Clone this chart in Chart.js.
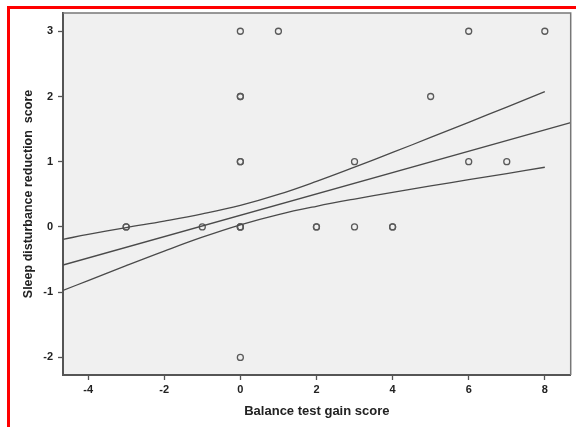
<!DOCTYPE html>
<html>
<head>
<meta charset="utf-8">
<script src="https://cdn.jsdelivr.net/npm/chart.js@4.4.0/dist/chart.umd.min.js"></script>
<style>
  body { margin: 0; background: #fff; }
  #wrap { position: relative; width: 576px; height: 427px; overflow: hidden; }
  #frame {
    position: absolute; left: 7px; top: 6px; width: 600px; height: 450px;
    border-top: 3px solid #ff0000; border-left: 3px solid #ff0000;
  }
  canvas { position: absolute; left: 0; top: 0; }
</style>
</head>
<body>
<div id="wrap">
  <canvas id="scatterChart" width="576" height="427"></canvas>
  <div id="frame"></div>
</div>
<script>
// ===== DATA =====
// one entry per observation (repeated values overlap and look darker)
const pointX = [0, 1, 6, 8, 0, 0, 5, 0, 0, 3, 6, 7, -3, -3, -1, 0, 0, 0, 2, 2, 3, 4, 4, 0];
const pointY = [3, 3, 3, 3, 2, 2, 2, 1, 1, 1, 1, 1, 0, 0, 0, 0, 0, 0, 0, 0, 0, 0, 0, -2];

// fitted line, ends at the plot edges
const fitX = [-4.66, 8.68];
const fitY = [-0.584, 1.60];

// 95% confidence band of the mean
const ciX = [-4.66, -4, -3, -2, -1, 0, 1, 2, 3, 4, 5, 6, 7, 8];
const ciUpper = [-0.19, -0.115, -0.01, 0.09, 0.20, 0.33, 0.498, 0.699, 0.917, 1.142, 1.372, 1.604, 1.838, 2.075];
const ciLower = [-0.974, -0.822, -0.593, -0.370, -0.157, 0.033, 0.190, 0.317, 0.428, 0.530, 0.628, 0.724, 0.818, 0.915];

const xRange = [-4.66, 8.68];
const yRange = [-2.27, 3.28];

const lineColor = '#4a4a4a';
const textColor = '#222';

Chart.defaults.font.family = "'Liberation Sans', Arial, sans-serif";

function toPoints(xs, ys) {
    return xs.map(function(x, i) { return { x: x, y: ys[i] }; });
}

// gray plot background plus the thin top/right frame
const plotFrame = {
    id: 'plotFrame',
    beforeDraw: function(chart) {
        const a = chart.chartArea;
        const c = chart.ctx;
        c.save();
        c.fillStyle = '#f0f0f0';
        c.fillRect(a.left, a.top, a.right - a.left, a.bottom - a.top);
        c.restore();
    },
    afterDraw: function(chart) {
        const a = chart.chartArea;
        const c = chart.ctx;
        c.save();
        c.strokeStyle = '#777';
        c.lineWidth = 1.5;
        c.beginPath();
        c.moveTo(a.left, a.top);
        c.lineTo(a.right, a.top);
        c.lineTo(a.right, a.bottom);
        c.stroke();
        c.restore();
    }
};

const ctx = document.getElementById('scatterChart');

new Chart(ctx, {
    type: 'scatter',
    data: {
        datasets: [
            {
                type: 'line',
                data: toPoints(ciX, ciUpper),
                borderColor: lineColor,
                borderWidth: 1.3,
                pointRadius: 0,
                tension: 0.4,
                fill: false
            },
            {
                type: 'line',
                data: toPoints(fitX, fitY),
                borderColor: lineColor,
                borderWidth: 1.3,
                pointRadius: 0,
                fill: false
            },
            {
                type: 'line',
                data: toPoints(ciX, ciLower),
                borderColor: lineColor,
                borderWidth: 1.3,
                pointRadius: 0,
                tension: 0.4,
                fill: false
            },
            {
                data: toPoints(pointX, pointY),
                pointRadius: 3,
                pointBorderWidth: 1.3,
                borderColor: '#5a5a5a',
                backgroundColor: 'rgba(0,0,0,0)'
            }
        ]
    },
    options: {
        responsive: false,
        animation: false,
        layout: { padding: { top: 13, right: 4, left: 0, bottom: 0 } },
        plugins: {
            legend: { display: false },
            tooltip: { enabled: false }
        },
        scales: {
            x: {
                type: 'linear',
                min: xRange[0],
                max: xRange[1],
                afterFit: function(scale) { scale.height = 52; },
                ticks: {
                    stepSize: 2,
                    includeBounds: false,
                    padding: 3,
                    color: textColor,
                    font: { size: 11, weight: 'bold' }
                },
                grid: {
                    drawOnChartArea: false,
                    tickLength: 5,
                    color: '#555',
                    tickWidth: 1.3
                },
                border: { color: '#555', width: 2 },
                title: {
                    display: true,
                    text: 'Balance test gain score',
                    color: textColor,
                    font: { size: 13, weight: 'bold' },
                    padding: { top: 0, bottom: 8 }
                }
            },
            y: {
                type: 'linear',
                min: yRange[0],
                max: yRange[1],
                afterFit: function(scale) { scale.width = 63; },
                ticks: {
                    stepSize: 1,
                    includeBounds: false,
                    padding: 5,
                    color: textColor,
                    font: { size: 11, weight: 'bold' }
                },
                grid: {
                    drawOnChartArea: false,
                    tickLength: 5,
                    color: '#555',
                    tickWidth: 1.3
                },
                border: { color: '#555', width: 2 },
                title: {
                    display: true,
                    text: 'Sleep disturbance reduction  score',
                    color: textColor,
                    font: { size: 12.5, weight: 'bold' },
                    padding: { top: 21, bottom: 0 }
                }
            }
        }
    },
    plugins: [plotFrame]
});
</script>
</body>
</html>
